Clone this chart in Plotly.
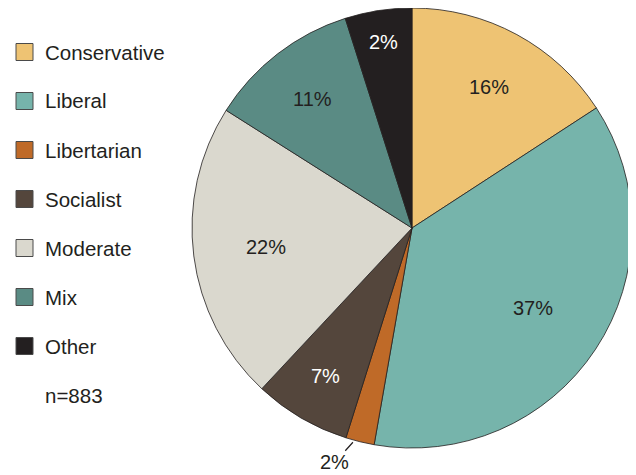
import math
import plotly.graph_objects as go

categories = ["Conservative", "Liberal", "Libertarian", "Socialist", "Moderate", "Mix", "Other"]
# slice sizes as drawn
shares = [15.8, 36.9, 2.1, 7.1, 22.0, 11.1, 4.9]
# percentage labels as printed on the chart
pct_labels = ["16%", "37%", "2%", "7%", "22%", "11%", "2%"]
n_label = "n=883"

# styling
colors = ["#EEC373", "#76B4AB", "#BF6A28", "#54463C", "#DAD8CE", "#5A8B84", "#231F20"]
text_colors = ["#231F20", "#231F20", "#231F20", "#FFFFFF", "#231F20", "#231F20", "#FFFFFF"]
label_radius = [0.73, 0.66, None, 0.78, 0.67, 0.74, 0.855]  # fraction of pie radius; None = outside w/ leader

FONT = "Liberation Sans, Arial, Helvetica, sans-serif"
OFF = 8  # page body margin
W, H = 636 - OFF, 475 - OFF
cx, cy, R = 412 - OFF, 228 - OFF, 220

def px(x):
    return x / W

def py(y):
    return 1 - y / H

fig = go.Figure()
fig.add_trace(go.Pie(
    labels=categories, values=shares, text=pct_labels,
    textinfo="none",
    sort=False, direction="clockwise", rotation=0,
    marker=dict(colors=colors, line=dict(color="#231F20", width=0.8)),
    domain=dict(x=[px(cx - R), px(cx + R)], y=[py(cy + R), py(cy - R)]),
    showlegend=False, hoverinfo="label+text",
))

annotations = []
total = sum(shares)
cum = 0.0
for val, lab, tc, rf in zip(shares, pct_labels, text_colors, label_radius):
    mid = (cum + val / 2) / total * 2 * math.pi
    cum += val
    s, c = math.sin(mid), math.cos(mid)
    if rf is not None:
        annotations.append(dict(text=lab, x=px(cx + rf * R * s), y=py(cy - rf * R * c),
                                xref="paper", yref="paper", showarrow=False,
                                xanchor="center", yanchor="middle",
                                font=dict(family=FONT, size=20, color=tc)))
    else:
        annotations.append(dict(text=lab, x=px(cx + R * s - 7), y=py(cy - R * c + 0.5),
                                xref="paper", yref="paper", showarrow=True,
                                arrowhead=0, arrowwidth=1.2, arrowcolor="#231F20",
                                ax=-18, ay=20, standoff=0, borderpad=0,
                                font=dict(family=FONT, size=20, color=tc)))

shapes = []
y0 = 52 - OFF
step = 49
for i, (cat, col) in enumerate(zip(categories, colors)):
    yc = y0 + i * step
    shapes.append(dict(type="rect", xref="paper", yref="paper",
                       x0=px(16 - OFF), x1=px(33 - OFF), y0=py(yc + 8.5), y1=py(yc - 8.5),
                       fillcolor=col, line=dict(color="#4a4a4a", width=1)))
    annotations.append(dict(text=cat, x=px(43 - OFF), y=py(yc), xref="paper", yref="paper",
                            xanchor="left", yanchor="middle", showarrow=False,
                            font=dict(family=FONT, size=20.5, color="#231F20")))
annotations.append(dict(text=n_label, x=px(43 - OFF), y=py(y0 + 7 * step), xref="paper", yref="paper",
                        xanchor="left", yanchor="middle", showarrow=False,
                        font=dict(family=FONT, size=20.5, color="#231F20")))

fig.update_layout(
    width=W, height=H, margin=dict(l=0, r=0, t=0, b=0),
    paper_bgcolor="white", plot_bgcolor="white",
    shapes=shapes, annotations=annotations,
)
fig.write_html("out.html")
